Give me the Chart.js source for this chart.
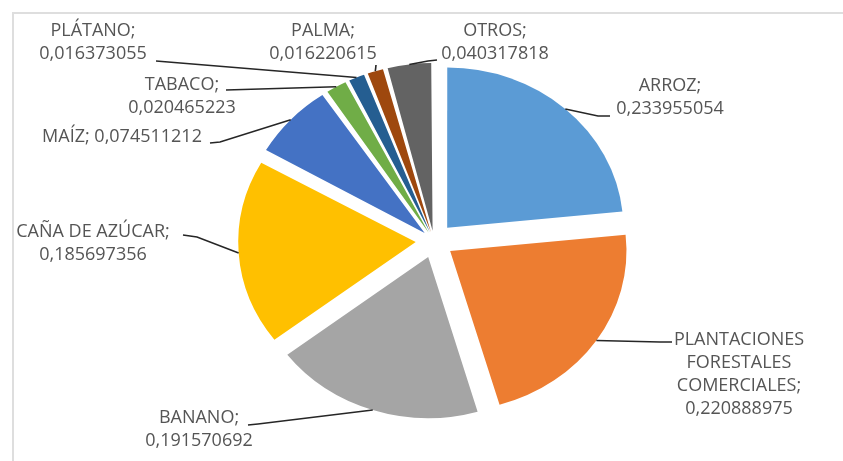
<!DOCTYPE html>
<html>
<head>
<meta charset="utf-8">
<script src="https://cdn.jsdelivr.net/npm/chart.js@4/dist/chart.umd.min.js"></script>
<style>
  html, body { margin: 0; padding: 0; background: #fff; }
</style>
</head>
<body>
<canvas id="chart" width="843" height="461"></canvas>
<script>
const categories = ['ARROZ', 'PLANTACIONES FORESTALES COMERCIALES', 'BANANO', 'CAÑA DE AZÚCAR', 'MAÍZ', 'TABACO', 'PLÁTANO', 'PALMA', 'OTROS'];
const shares = [0.233955054, 0.220888975, 0.191570692, 0.185697356, 0.074511212, 0.020465223, 0.016373055, 0.016220615, 0.040317818];
const colors = ['#5B9BD5', '#ED7D31', '#A5A5A5', '#FFC000', '#4472C4', '#70AD47', '#255E91', '#9E480E', '#636363'];

const GAP = 18;       // explode distance of every slice, px
const STRETCH = 1.1;  // pie is a bit wider than tall in the picture
const LINE_H = 23;

// where each label sits: text centre x, first line y, how it wraps, leader points after the slice edge
const labelLayout = [
  { x: 670, y: 86,  wrap: 'two',   pts: [[598, 116], [610, 116]] },
  { x: 739, y: 340, wrap: 'words', pts: [[660, 342], [672, 342]] },
  { x: 199, y: 418, wrap: 'two',   pts: [[258, 424], [248, 425]] },
  { x: 93,  y: 232, wrap: 'two',   pts: [[197, 237], [183, 235]] },
  { x: 122, y: 137, wrap: 'one',   pts: [[220, 142], [210, 143]] },
  { x: 182, y: 85,  wrap: 'two',   pts: [[226, 90]] },
  { x: 93,  y: 31,  wrap: 'two',   pts: [[156, 61]] },
  { x: 323, y: 31,  wrap: 'two',   pts: [[376, 65]] },
  { x: 495, y: 31,  wrap: 'two',   pts: [[428, 61], [437, 60]] }
];

const fmt = v => String(v).replace('.', ',');

function labelLines(i) {
  const name = categories[i], val = fmt(shares[i]);
  const wrap = labelLayout[i].wrap;
  if (wrap === 'one') return [name + '; ' + val];
  if (wrap === 'words') {
    const words = name.split(' ');
    words[words.length - 1] += ';';
    return [...words, val];
  }
  return [name + ';', val];
}

// chart.js pushes small arcs further out, so undo that to get an even gap
function arcOffset(ctx) {
  const total = shares.reduce((a, b) => a + b, 0);
  const circ = 2 * Math.PI * shares[ctx.dataIndex] / total;
  const fix = 1 - Math.sin(Math.min(Math.PI, circ));
  return 4 * GAP / (1 + fix);
}

const framePlugin = {
  id: 'frame',
  beforeDraw(chart) {
    const { ctx } = chart;
    ctx.save();
    ctx.strokeStyle = '#dedede';
    ctx.lineWidth = 2;
    ctx.strokeRect(13, 13, 900, 500);
    ctx.restore();
  }
};

const stretchPlugin = {
  id: 'stretch',
  beforeDatasetsDraw(chart) {
    const arc = chart.getDatasetMeta(0).data[0];
    const { ctx } = chart;
    ctx.save();
    ctx.translate(arc.x, 0);
    ctx.scale(STRETCH, 1);
    ctx.translate(-arc.x, 0);
  },
  afterDatasetsDraw(chart) {
    chart.ctx.restore();
  }
};

const labelPlugin = {
  id: 'sliceLabels',
  afterDraw(chart) {
    const { ctx } = chart;
    const meta = chart.getDatasetMeta(0);
    ctx.save();
    meta.data.forEach((arc, i) => {
      const { x, y, startAngle, endAngle, outerRadius } = arc.getProps(['x', 'y', 'startAngle', 'endAngle', 'outerRadius'], true);
      const mid = (startAngle + endAngle) / 2;
      const circ = endAngle - startAngle;
      const off = arc.options.offset / 4;
      const shift = off * (2 - Math.sin(Math.min(Math.PI, circ)));
      const ex = x + STRETCH * Math.cos(mid) * (shift + outerRadius);
      const ey = y + Math.sin(mid) * (shift + outerRadius);
      const lay = labelLayout[i];

      ctx.strokeStyle = '#262626';
      ctx.lineWidth = 1.6;
      ctx.beginPath();
      ctx.moveTo(ex, ey);
      lay.pts.forEach(p => ctx.lineTo(p[0], p[1]));
      ctx.stroke();

      ctx.fillStyle = '#555555';
      ctx.font = '18px "Open Sans", sans-serif';
      ctx.textAlign = 'center';
      ctx.textBaseline = 'middle';
      labelLines(i).forEach((line, k) => ctx.fillText(line, lay.x, lay.y + k * LINE_H));
    });
    ctx.restore();
  }
};

new Chart(document.getElementById('chart'), {
  type: 'pie',
  data: {
    labels: categories,
    datasets: [{
      data: shares,
      backgroundColor: colors,
      borderWidth: 0,
      offset: arcOffset
    }]
  },
  options: {
    responsive: false,
    animation: false,
    radius: 160,
    layout: { padding: { left: 75, right: 50, top: 41, bottom: 20 } },
    plugins: {
      legend: { display: false },
      tooltip: { enabled: false }
    }
  },
  plugins: [framePlugin, stretchPlugin, labelPlugin]
});
</script>
</body>
</html>
